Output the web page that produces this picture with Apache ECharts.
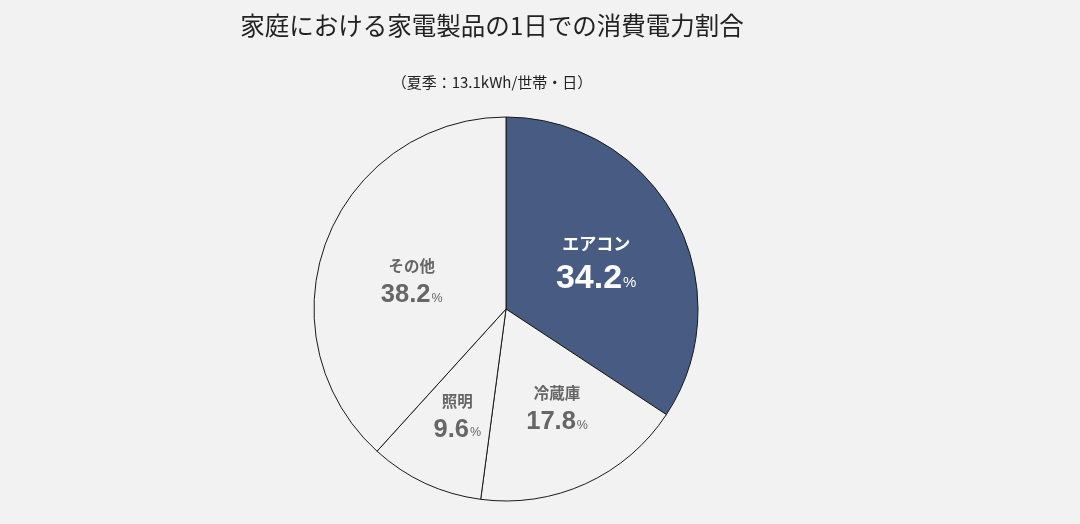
<!DOCTYPE html>
<html>
<head>
<meta charset="utf-8">
<script src="https://cdn.jsdelivr.net/npm/echarts@6/dist/echarts.min.js"></script>
<style>
html,body{margin:0;padding:0;background:#f2f2f2;}
#c{width:1080px;height:524px;}
</style>
</head>
<body>
<div id="c"></div>
<script>
const titleText = '家庭における家電製品の1日での消費電力割合';
const subtitleText = '（夏季：13.1kWh/世帯・日）';
const categories = ['エアコン', '冷蔵庫', '照明', 'その他'];
const values = [34.2, 17.8, 9.6, 38.2];

const fills = ['#475b83', '#f2f2f2', '#f2f2f2', '#f2f2f2'];
const textColors = ['#ffffff', '#666666', '#666666', '#666666'];
const offsets = [[3, 2], [10, 10], [-7, 18], [-2, 9]];
const bigs = [true, false, false, false];

const jp = '"Noto Sans CJK JP", "Noto Sans", sans-serif';
const num = '"Liberation Sans", Arial, sans-serif';

const data = categories.map((name, i) => {
  const big = bigs[i];
  const c = textColors[i];
  return {
    name: name,
    value: values[i],
    itemStyle: { color: fills[i] },
    label: {
      offset: offsets[i],
      rich: {
        n: { fontFamily: jp, fontWeight: 'bold', fontSize: big ? 17 : 15.5, color: c, lineHeight: big ? 30 : 26, align: 'center' },
        v: { fontFamily: num, fontWeight: 'bold', fontSize: big ? 34 : 25.5, color: c, lineHeight: big ? 40 : 32 },
        p: { fontFamily: num, fontSize: big ? 15 : 12.5, color: c, lineHeight: big ? 40 : 32, padding: [big ? 8 : 6, 0, 0, 1] }
      }
    }
  };
});

const chart = echarts.init(document.getElementById('c'));
chart.setOption({
  backgroundColor: '#f2f2f2',
  animation: false,
  title: [
    { text: titleText, left: 487, top: 8, textAlign: 'center',
      textStyle: { fontFamily: jp, fontSize: 24.5, fontWeight: 'normal', color: '#222222' } },
    { text: subtitleText, left: 487, top: 70, textAlign: 'center',
      textStyle: { fontFamily: jp, fontSize: 15, fontWeight: 'normal', color: '#222222' } }
  ],
  series: [{
    type: 'pie',
    center: [506, 309],
    radius: [0, 192],
    startAngle: 90,
    clockwise: true,
    avoidLabelOverlap: false,
    emphasis: { disabled: true },
    itemStyle: { borderColor: '#1a1a1a', borderWidth: 1 },
    label: {
      show: true,
      position: 'inside',
      formatter: p => '{n|' + p.name + '}\n{v|' + p.value.toFixed(1) + '}{p|%}'
    },
    labelLine: { show: false },
    data: data
  }]
});
</script>
</body>
</html>
